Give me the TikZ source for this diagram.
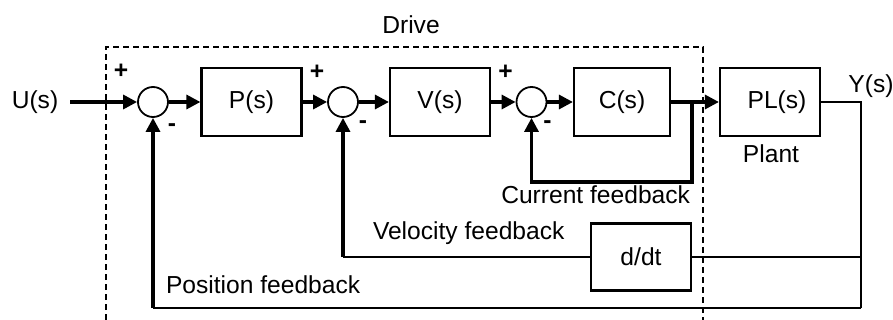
\documentclass[tikz,border=0pt]{standalone}
\usepackage{fontspec}
\setmainfont{Liberation Sans}
\usetikzlibrary{arrows.meta}

\begin{document}
\begin{tikzpicture}[x=0.5pt,y=-0.5pt,line width=1pt,>={Triangle[length=7pt,width=7pt]},
  font=\fontsize{12.3}{14}\selectfont,
  blk/.style={draw,line width=1.1pt,minimum width=50pt,minimum height=34pt,inner sep=0pt},
  sumc/.style={draw,circle,line width=0.9pt,minimum size=15pt,inner sep=0pt},
  sig/.style={->,line width=1.6pt},
  fb/.style={line width=0.7pt},
  sgn/.style={inner sep=0pt,font=\fontsize{12.3}{14}\selectfont\bfseries}]
  \useasboundingbox (0,0) rectangle (893,320);
  % bloque del accionamiento
  \draw[line width=0.6pt,dash pattern=on 3pt off 2pt] (106,320) -- (106,47) -- (703,47) -- (703,320);
  \node (drv) at (411,25) {Drive};
  % lazo directo
  \node[inner sep=0pt] (u) at (35,102) {U(s)};
  \node[sumc] (sA) at (153,102) {};
  \node[blk] (ps) at (251.5,102) {P(s)};
  \node[sumc] (sB) at (343,102) {};
  \node[blk] (vs) at (440,102) {V(s)};
  \node[sumc] (sC) at (531.5,102) {};
  \node[blk,minimum width=48pt] (cs) at (622,102) {C(s)};
  \node[blk] (pl) at (770,102) {\hspace{7pt}PL(s)};
  \node (plt) at (771,154) {Plant};
  \node (ys) at (871,86) {Y(s)};
  \node[blk,minimum height=33.5pt] (ddt) at (641,257) {d/dt};
  \coordinate (cout) at (692,102);
  \coordinate (cfb) at (692,182);
  \coordinate (yc) at (861,102);
  \coordinate (pfb) at (861,308);
  % signos
  \node[sgn] (pA) at ([shift={(-32,-31)}]sA) {+};
  \node[sgn] (mA) at ([shift={(19,26)}]sA) {-};
  \node[sgn] (pB) at ([shift={(-26,-30)}]sB) {+};
  \node[sgn] (mB) at ([shift={(20,23)}]sB) {-};
  \node[sgn] (pC) at ([shift={(-26,-30)}]sC) {+};
  \node[sgn] (mC) at ([shift={(16,23)}]sC) {-};
  \draw[sig,shorten <=5.5pt] (u) -- (sA);
  \draw[sig] (sA) -- (ps);
  \draw[sig] (ps) -- (sB);
  \draw[sig] (sB) -- (vs);
  \draw[sig] (vs) -- (sC);
  \draw[sig] (sC) -- (cs);
  \draw[sig] (cs) -- (pl);
  % realimentaciones
  \draw[sig] (cout) -- (cfb) -| (sC);
  \node[anchor=east,inner sep=0pt] (cfl) at (691,195) {Current feedback};
  \draw[fb] (pl) -- (yc) |- (ddt);
  \draw[fb] (ddt) -- (ddt -| sB);
  \draw[sig] (ddt -| sB) -- (sB);
  \node[anchor=west,inner sep=0pt] (vfl) at (372,233) {Velocity feedback};
  \draw[fb] (yc) -- (pfb);
  \draw[line width=1pt] (pfb) -- (pfb -| sA);
  \draw[sig] (pfb -| sA) -- (sA);
  \node[anchor=west,inner sep=0pt] (pfl) at (165,285) {Position feedback};
\end{tikzpicture}
\end{document}
